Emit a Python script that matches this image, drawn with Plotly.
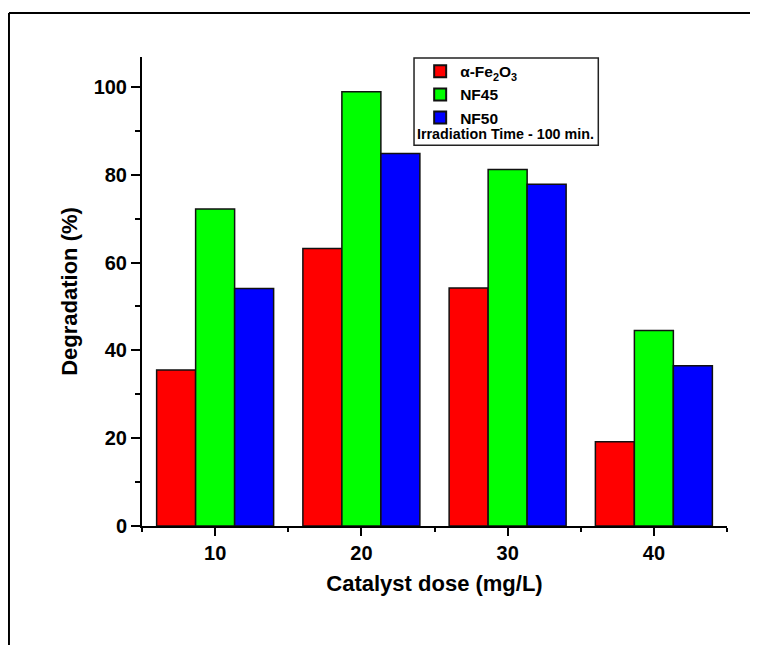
import plotly.graph_objects as go

doses = [10, 20, 30, 40]
fe2o3 = [35.5, 63.2, 54.2, 19.2]
nf45 = [72.2, 98.9, 81.2, 44.5]
nf50 = [54.1, 84.8, 77.8, 36.5]
series_names = ["α-Fe<sub>2</sub>O<sub>3</sub>", "NF45", "NF50"]
series_colors = ["#FF0000", "#00FF00", "#0000FF"]

FONT = "Liberation Sans, Arial, sans-serif"

fig = go.Figure()
for name, vals, col in zip(series_names, [fe2o3, nf45, nf50], series_colors):
    fig.add_trace(go.Bar(
        x=doses, y=vals, name=name,
        marker=dict(color=col, line=dict(color="#111111", width=1.5)),
    ))

fig.update_layout(
    width=758, height=645,
    margin=dict(l=134, r=39, t=49, b=127),
    paper_bgcolor="white", plot_bgcolor="white",
    barmode="group", bargap=0.2, bargroupgap=0,
    font=dict(family=FONT, color="black"),
    showlegend=True,
    legend=dict(
        x=0.4755, y=1.005, xanchor="left", yanchor="top",
        bgcolor="rgba(0,0,0,0)", borderwidth=0,
        font=dict(family=FONT, size=15.5, color="black", weight="bold"),
        tracegroupgap=0, itemsizing="constant",
    ),
    xaxis=dict(
        range=[5, 45], tickmode="array", tickvals=doses,
        ticktext=[str(d) for d in doses],
        showline=True, linecolor="black", linewidth=2,
        ticks="outside", ticklen=8, tickwidth=2, tickcolor="black",
        minor=dict(dtick=5, tick0=5, ticks="outside", ticklen=4, tickwidth=2, tickcolor="black"),
        showgrid=False, zeroline=False,
        tickfont=dict(family=FONT, size=20, color="black", weight="bold"),
        title=dict(text="Catalyst dose (mg/L)", standoff=13,
                   font=dict(family=FONT, size=22, color="black", weight="bold")),
    ),
    yaxis=dict(
        range=[0, 106.8], tickmode="linear", tick0=0, dtick=20,
        showline=True, linecolor="black", linewidth=2,
        ticks="outside", ticklen=9, tickwidth=2, tickcolor="black",
        minor=dict(dtick=10, tick0=0, ticks="outside", ticklen=5, tickwidth=2, tickcolor="black"),
        showgrid=False, zeroline=False,
        tickfont=dict(family=FONT, size=20, color="black", weight="bold"),
        title=dict(text="Degradation (%)", standoff=10,
                   font=dict(family=FONT, size=22, color="black", weight="bold")),
    ),
)

# legend box
fig.add_shape(type="rect", xref="paper", yref="paper",
              x0=0.465, x1=0.78, y0=0.812, y1=0.998,
              line=dict(color="#222222", width=1.5), fillcolor="rgba(0,0,0,0)")
fig.add_annotation(text="<b>Irradiation Time - 100 min.</b>", xref="paper", yref="paper",
                   x=0.467, y=0.836, xanchor="left", yanchor="middle", showarrow=False,
                   font=dict(family=FONT, size=14.3, color="black"))

# outer frame (top and left edges visible)
fig.add_shape(type="line", xref="paper", yref="paper",
              x0=-0.2274, x1=1.09, y0=1.0938, y1=1.0938,
              line=dict(color="black", width=2))
fig.add_shape(type="line", xref="paper", yref="paper",
              x0=-0.2274, x1=-0.2274, y0=1.0938, y1=-0.30,
              line=dict(color="black", width=2))

fig.write_html("out.html")
